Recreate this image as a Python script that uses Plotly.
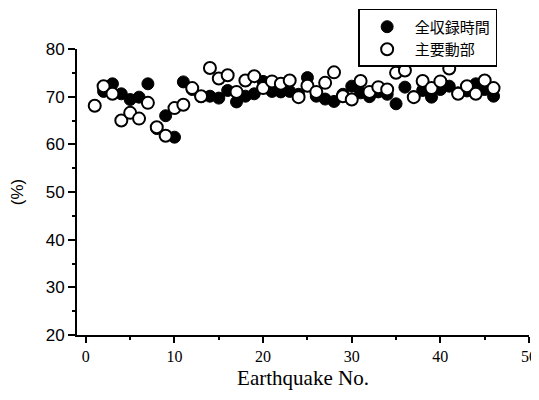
import plotly.graph_objects as go

# ---------------------------------------------------
# DATA
# ---------------------------------------------------

all_x = [2, 3, 4, 5, 6, 7, 8, 9, 10, 11, 12, 13, 14, 15, 16, 17, 18, 19, 20, 21, 22, 23,
         24, 25, 26, 27, 28, 29, 30, 31, 32, 33, 34, 35, 36, 37, 38, 39, 40, 41, 42, 43,
         44, 45, 46]
all_y = [71.1, 72.7, 70.6, 69.4, 69.9, 72.7, 63.3, 66.0, 61.5, 73.1, 71.5, 70.0, 70.1,
         69.7, 71.3, 68.9, 70.1, 70.6, 73.2, 71.1, 71.0, 71.1, 70.5, 74.0, 70.1, 69.5,
         69.0, 70.5, 72.2, 70.8, 70.0, 71.0, 70.5, 68.5, 72.0, 70.0, 71.3, 69.9, 71.5,
         72.2, 70.8, 71.2, 72.7, 71.5, 70.1]

main_x = list(range(1, 47))
main_y = [68.1, 72.2, 70.6, 65.0, 66.6, 65.4, 68.7, 63.6, 61.8, 67.6, 68.3, 71.8, 70.1,
          76.0, 73.8, 74.5, 71.0, 73.4, 74.3, 71.8, 73.2, 72.7, 73.4, 69.9, 72.3, 71.0,
          72.9, 75.1, 70.1, 69.4, 73.3, 71.0, 72.0, 71.5, 75.0, 75.5, 69.9, 73.3, 71.8,
          73.2, 75.9, 70.6, 72.2, 70.6, 73.4, 71.8]

x_ticks = [0, 10, 20, 30, 40, 50]
y_ticks = [20, 30, 40, 50, 60, 70, 80]

# ---------------------------------------------------
# FIGURE
# ---------------------------------------------------

fig = go.Figure()

fig.add_trace(go.Scatter(
    x=all_x, y=all_y, mode='markers', name='全収録時間',
    marker=dict(symbol='circle', size=12, color='black',
                line=dict(color='black', width=1))
))

fig.add_trace(go.Scatter(
    x=main_x, y=main_y, mode='markers', name='主要動部',
    marker=dict(symbol='circle', size=12, color='white',
                line=dict(color='black', width=2))
))

# page has an 8px body margin, so the figure is a bit smaller than the window
fig.update_layout(
    width=531, height=392,
    margin=dict(l=69, r=10, t=41, b=65, autoexpand=False),
    plot_bgcolor='white', paper_bgcolor='white',
    font=dict(family='Liberation Sans, Arial, sans-serif', color='black', size=15),
    showlegend=True,
    legend=dict(
        x=0.622, y=1.14, xanchor='left', yanchor='top',
        bgcolor='white', bordercolor='black', borderwidth=1.5,
        font=dict(family='Noto Sans CJK JP', size=15, color='black'),
        tracegroupgap=0, itemwidth=45,
    ),
)

fig.update_xaxes(
    range=[-1, 50], tickvals=x_ticks, showgrid=False, zeroline=False,
    showline=True, linecolor='black', linewidth=2,
    ticks='outside', ticklen=6, tickwidth=1.5, tickcolor='black',
    minor=dict(dtick=5, tick0=0, ticks='outside', ticklen=3, tickcolor='black'),
    tickfont=dict(family='Liberation Serif, Times New Roman, serif', size=16),
    title=dict(text='Earthquake No.', standoff=6,
               font=dict(family='Liberation Serif, Times New Roman, serif', size=21)),
)

fig.update_yaxes(
    range=[20, 80], tickvals=y_ticks, showgrid=False, zeroline=False,
    showline=True, linecolor='black', linewidth=2,
    ticks='outside', ticklen=7, tickwidth=1.5, tickcolor='black',
    minor=dict(dtick=5, tick0=20, ticks='outside', ticklen=3, tickcolor='black'),
    tickfont=dict(family='Liberation Sans, Arial, sans-serif', size=17),
    title=dict(text='(%)', standoff=26,
               font=dict(family='Liberation Sans, Arial, sans-serif', size=17)),
)

fig.write_html("out.html")
